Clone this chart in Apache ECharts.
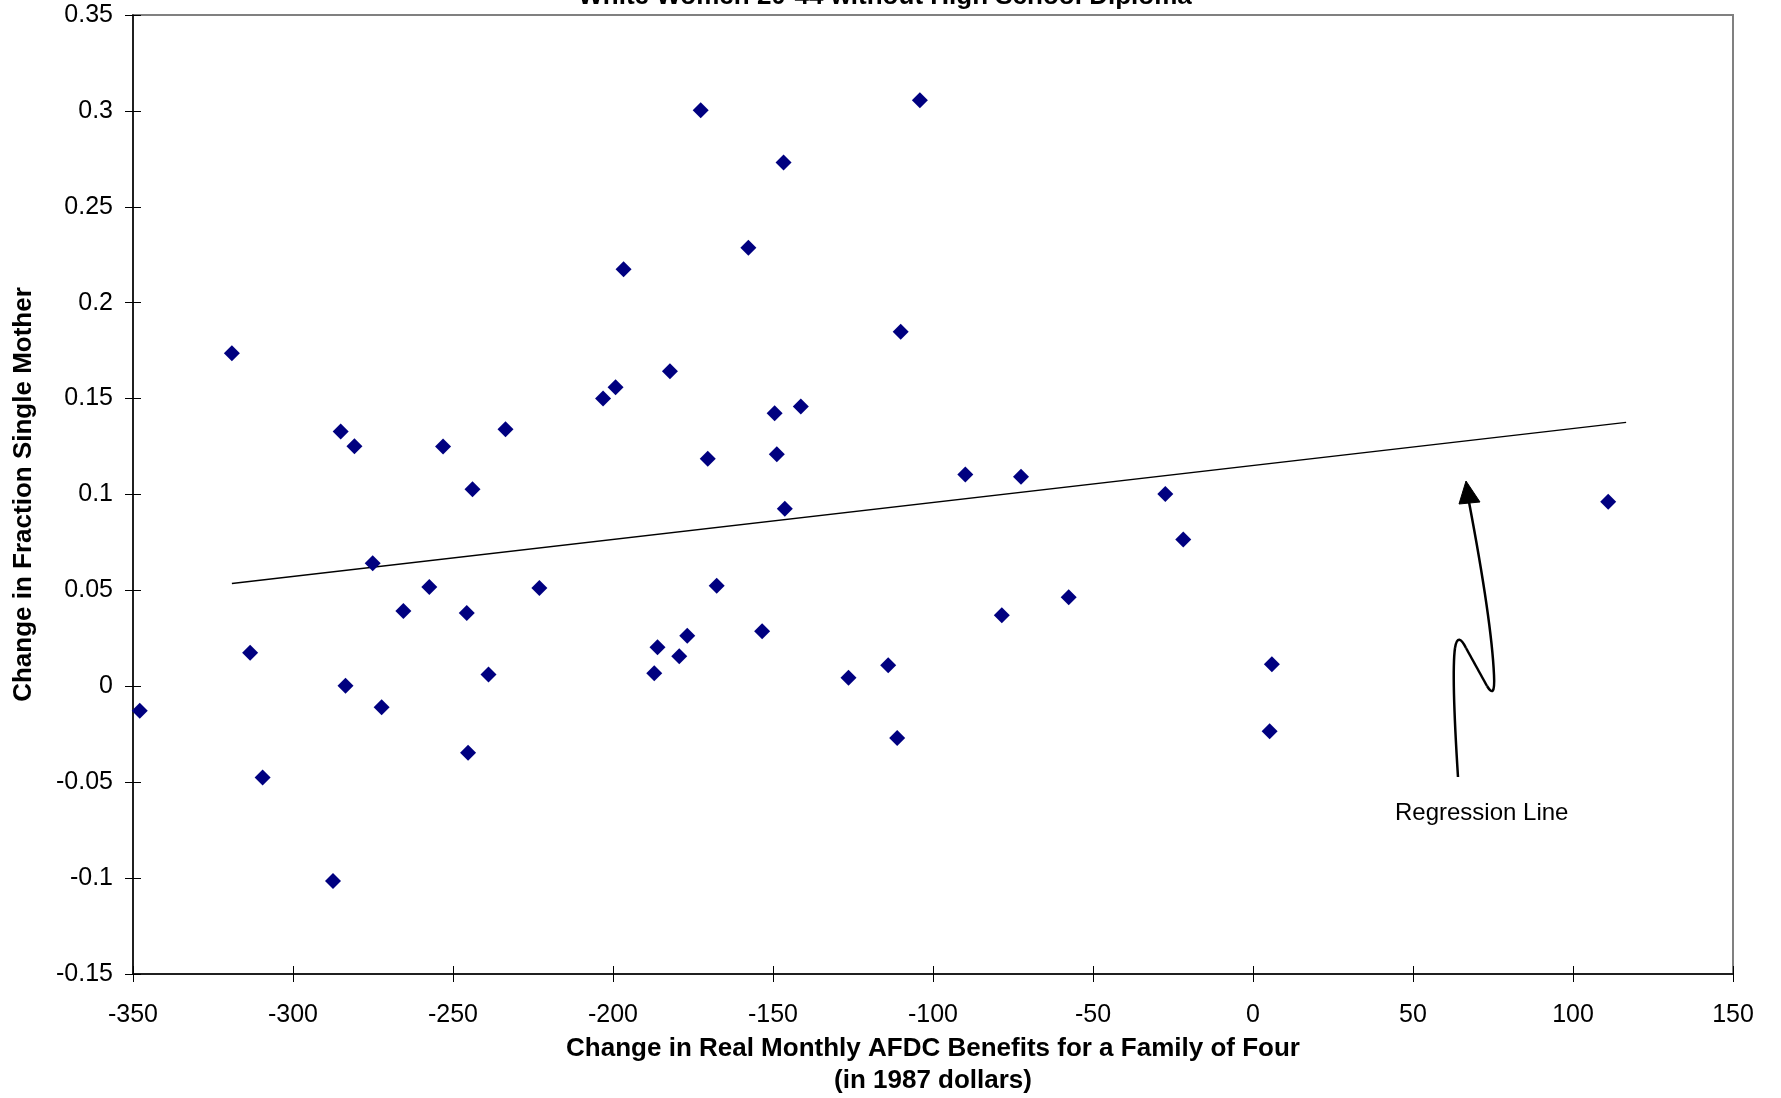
<!DOCTYPE html>
<html>
<head>
<meta charset="utf-8">
<script src="https://cdn.jsdelivr.net/npm/echarts@6/dist/echarts.min.js"></script>
<style>
html,body{margin:0;padding:0;background:#fff;}
#chart{width:1781px;height:1098px;}
</style>
</head>
<body>
<div id="chart"></div>
<script>
const titleText = 'White Women 20-44 without High School Diploma';
const xAxisTitle = 'Change in Real Monthly AFDC Benefits for a Family of Four\n(in 1987 dollars)';
const yAxisTitle = 'Change in Fraction Single Mother';
const annotationText = 'Regression Line';

const benefitChange = [-347.9,-319.1,-313.4,-309.5,-287.5,-285.1,-283.6,-280.8,-275.1,-272.3,
  -265.5,-257.4,-253.1,-245.7,-245.3,-243.9,-238.9,-233.6,-223.0,-203.1,
  -199.2,-196.7,-187.1,-186.1,-182.2,-179.3,-176.8,-172.6,-170.4,-167.6,
  -157.7,-153.4,-149.5,-148.8,-146.7,-146.3,-141.3,-126.4,-114.0,-111.2,
  -110.1,-104.1,-89.9,-78.5,-72.5,-57.6,-27.4,-21.8,5.2,5.9,111.0];
const singleMotherChange = [-0.0127,0.1737,0.0175,-0.0476,-0.1015,0.1328,0.0003,0.1251,0.0642,-0.0109,
  0.0393,0.0518,0.125,0.0382,-0.0346,0.1027,0.0062,0.134,0.0512,0.150,
  0.1559,0.2175,0.0068,0.0204,0.1642,0.0157,0.0263,0.3003,0.1186,0.0524,
  0.2287,0.0287,0.1423,0.121,0.2731,0.0926,0.1459,0.0044,0.011,-0.0269,
  0.1849,0.3056,0.1104,0.037,0.1092,0.0464,0.1003,0.0766,-0.0234,0.0115,0.0962];
const regressionX = [-319.1, 116.6];
const regressionY = [0.0536, 0.1376];

const FONT = 'Liberation Sans, Arial, sans-serif';
const chart = echarts.init(document.getElementById('chart'), null, {renderer:'canvas'});

const scatterData = benefitChange.map((x,i)=>[x, singleMotherChange[i]]);
const lineData = regressionX.map((x,i)=>[x, regressionY[i]]);

const xBase = {type:'value', min:-350, max:150, interval:50, gridIndex:0};
const yBase = {type:'value', min:-0.15, max:0.35, interval:0.05, gridIndex:0};

const arrowStroke = {stroke:'#000', lineWidth:2.5, fill:null};

chart.setOption({
  animation:false,
  backgroundColor:'#ffffff',
  grid:{left:133, right:48, top:15, bottom:124, containLabel:false, outerBoundsMode:'none',
    show:true, borderColor:'#808080', borderWidth:2, backgroundColor:'transparent'},
  xAxis:[
    Object.assign({}, xBase, {
      position:'bottom',
      axisLine:{show:true, onZero:false, lineStyle:{color:'#000', width:1.5}},
      axisTick:{show:true, inside:false, length:8, lineStyle:{color:'#000', width:1}},
      axisLabel:{show:true, margin:29, color:'#000', fontSize:25, fontFamily:FONT},
      splitLine:{show:false},
      name:xAxisTitle, nameLocation:'middle', nameGap:59,
      nameTextStyle:{color:'#000', fontSize:26, fontWeight:'bold', fontFamily:FONT, lineHeight:32}
    }),
    Object.assign({}, xBase, {
      position:'bottom',
      axisLine:{show:false, onZero:false},
      axisTick:{show:true, inside:true, length:8, lineStyle:{color:'#000', width:1}},
      axisLabel:{show:false},
      splitLine:{show:false}
    })
  ],
  yAxis:[
    Object.assign({}, yBase, {
      position:'left',
      axisLine:{show:true, onZero:false, lineStyle:{color:'#000', width:1.5}},
      axisTick:{show:true, inside:false, length:8, lineStyle:{color:'#000', width:1}},
      axisLabel:{show:true, margin:20, color:'#000', fontSize:25, fontFamily:FONT},
      splitLine:{show:false},
      name:yAxisTitle, nameLocation:'middle', nameGap:96, nameRotate:90,
      nameTextStyle:{color:'#000', fontSize:26, fontWeight:'bold', fontFamily:FONT}
    }),
    Object.assign({}, yBase, {
      position:'left', offset:0,
      axisLine:{show:false, onZero:false},
      axisTick:{show:true, inside:true, length:8, lineStyle:{color:'#000', width:1}},
      axisLabel:{show:false},
      splitLine:{show:false}
    })
  ],
  series:[
    {
      type:'line', data:lineData, xAxisIndex:0, yAxisIndex:0,
      symbol:'none', lineStyle:{color:'#000', width:1.3}, z:2, silent:true
    },
    {
      type:'scatter', data:scatterData, xAxisIndex:0, yAxisIndex:0,
      symbol:'diamond', symbolSize:16,
      itemStyle:{color:'#000080', opacity:1}, z:3
    }
  ],
  graphic:[
    {
      type:'text', z:10,
      style:{text:titleText, x:885, y:-3, textAlign:'center', textVerticalAlign:'middle',
        fill:'#000', font:'bold 26px ' + FONT}
    },
    {type:'bezierCurve', z:10, shape:{x1:1458,y1:777,cpx1:1455,cpy1:730,cpx2:1452,cpy2:670,x2:1455,y2:648}, style:arrowStroke},
    {type:'bezierCurve', z:10, shape:{x1:1455,y1:648,cpx1:1457,cpy1:636,cpx2:1461,cpy2:638,x2:1466,y2:648}, style:arrowStroke},
    {type:'line', z:10, shape:{x1:1466,y1:648,x2:1487,y2:686}, style:arrowStroke},
    {type:'bezierCurve', z:10, shape:{x1:1487,y1:686,cpx1:1492,cpy1:694,cpx2:1495,cpy2:694,x2:1494,y2:675}, style:arrowStroke},
    {type:'bezierCurve', z:10, shape:{x1:1494,y1:675,cpx1:1492,cpy1:630,cpx2:1480,cpy2:560,x2:1469,y2:502}, style:arrowStroke},
    {
      type:'polygon', z:10,
      shape:{points:[[1466,481],[1459,504],[1480,502]]},
      style:{fill:'#000', stroke:'#000', lineWidth:1}
    },
    {
      type:'text', z:10,
      style:{text:annotationText, x:1395, y:813, textAlign:'left', textVerticalAlign:'middle',
        fill:'#000', font:'24px ' + FONT}
    }
  ]
});
</script>
</body>
</html>
